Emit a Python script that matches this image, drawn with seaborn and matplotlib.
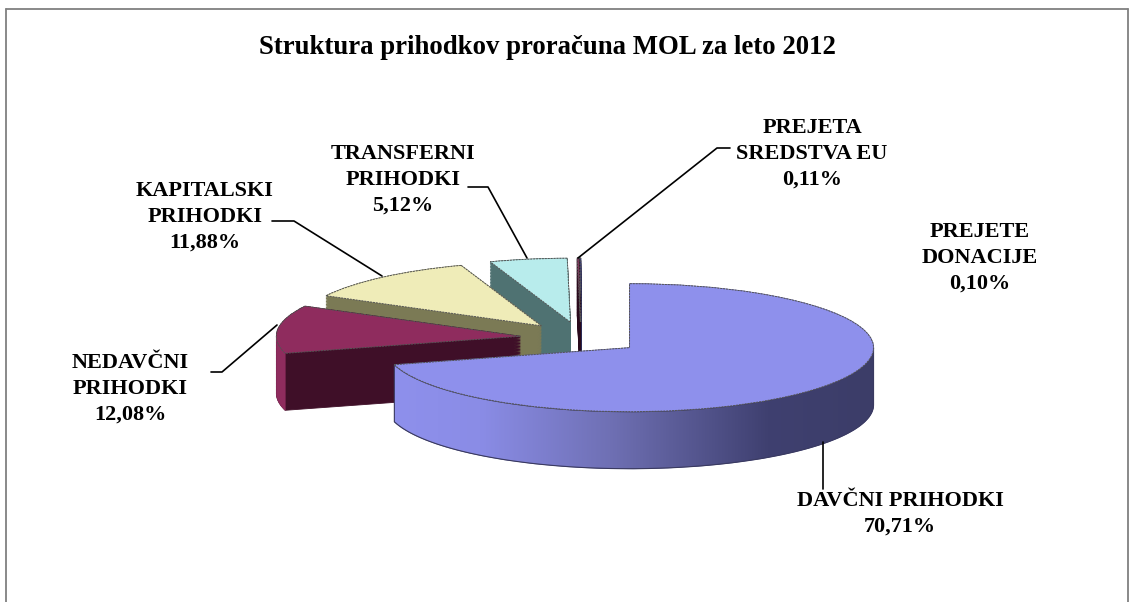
import numpy as np
import matplotlib
matplotlib.use("Agg")
import matplotlib.pyplot as plt
from matplotlib.patches import Wedge, Polygon
from matplotlib.lines import Line2D
from matplotlib.colors import LinearSegmentedColormap
import seaborn as sns

title = "Struktura prihodkov proračuna MOL za leto 2012"
names = ["DAVČNI PRIHODKI", "NEDAVČNI\nPRIHODKI", "KAPITALSKI\nPRIHODKI",
         "TRANSFERNI\nPRIHODKI", "PREJETA\nSREDSTVA EU", "PREJETE\nDONACIJE"]
shares = [70.71, 12.08, 11.88, 5.12, 0.11, 0.10]
top_colors = ["#8e90ec", "#8f2c5e", "#efecb8", "#b8ecec", "#8f2c5e", "#3a3a7a"]
cut_colors = ["#5a5b96", "#3f0f28", "#7b7a55", "#4f7272", "#2a0a1c", "#2a2a55"]
arc_colors = ["#8e90ec", "#8f2c5e", "#efecb8", "#b8ecec", "#4a1030", "#3a3a7a"]
label_xy = [(900, 514), (130, 389), (205, 217), (403, 180), (812, 154), (980, 258)]
leaders = [[(823, 442), (823, 489)],
           [(277, 325), (222, 372), (211, 372)],
           [(382, 276), (294, 221), (272, 221)],
           [(527, 258), (488, 187), (468, 187)],
           [(578, 258), (717, 148), (730, 148)],
           []]

W, H = 1138, 602
CX, CY, RX, RY, DEPTH = 581, 338, 244, 64, 57

sns.set_theme(style="white")
plt.rcParams["font.family"] = ["Liberation Serif", "DejaVu Serif"]
palette = sns.color_palette(top_colors)

fig = plt.figure(figsize=(W / 100, H / 100), dpi=100, facecolor="white")
ax = fig.add_axes([0, 0, 1, 1])
wedges, _ = ax.pie(shares, explode=[0.25] * len(shares), startangle=90,
                   counterclock=False, colors=palette,
                   wedgeprops=dict(linewidth=0.7, edgecolor="#555555", linestyle=(0, (2, 1))))
xlim = (-CX / RX, (W - CX) / RX)
ylim = ((CY - H) / RY, CY / RY)
ax.set_aspect("auto")
d = DEPTH / RY
paint_order = [5, 4, 3, 2, 1, 0]
grad = LinearSegmentedColormap.from_list(
    "wall", [(0, "#8e90ec"), (0.18, "#8a8ce6"), (0.45, "#6f70b4"), (0.78, "#3f4070"), (1, "#3c3d68")])
for rank, i in enumerate(paint_order):
    w = wedges[i]
    base = 10 * (rank + 1)
    cx, cy = w.center
    for k, off in enumerate(np.linspace(d, 0, 40)):
        ax.add_patch(Wedge((cx, cy - off), w.r, w.theta1, w.theta2, facecolor=cut_colors[i],
                           edgecolor=cut_colors[i], linewidth=0.6, zorder=base + k * 0.01))
    # outer rim: only the part facing the viewer (lower half of the ellipse)
    t1, t2 = w.theta1 % 360, w.theta2 % 360
    if t2 <= t1:
        t2 += 360
    segs = []
    for lo, hi in [(180, 360), (540, 720)]:
        a, b = max(t1, lo), min(t2, hi)
        if b > a:
            segs.append((a, b))
    for a, b in segs:
        t = np.radians(np.linspace(a, b, 200))
        xs, ys = cx + w.r * np.cos(t), cy + w.r * np.sin(t)
        poly = np.vstack([np.c_[xs, ys], np.c_[xs, ys - d][::-1]])
        if i == 0:
            patch = Polygon(poly, closed=True, transform=ax.transData, facecolor="none",
                            edgecolor="#3a3a60", linewidth=0.8, zorder=base + 1.2)
            ax.add_patch(patch)
            im = ax.imshow(np.linspace(0, 1, 256)[None, :], cmap=grad, aspect="auto",
                           extent=[xs.min(), xs.max(), (cy - d - 1.2), cy + 0.2],
                           zorder=base + 1.1)
            im.set_clip_path(patch)
        else:
            ax.add_patch(Polygon(poly, closed=True, facecolor=arc_colors[i], edgecolor=arc_colors[i],
                                 linewidth=0.5, zorder=base + 1.1))
    w.set_zorder(base + 2)
ax.set_xlim(xlim)
ax.set_ylim(ylim)
ax.axis("off")


def fx(x):
    return x / W


def fy(y):
    return 1 - y / H


# frame of the picture (no lower edge visible)
for seg in [[(6, 602), (6, 9)], [(6, 9), (1128, 9)], [(1128, 9), (1128, 602)]]:
    fig.add_artist(Line2D([fx(p[0]) for p in seg], [fy(p[1]) for p in seg], color="#808080", linewidth=1.3))

fig.text(fx(547), fy(47), title, ha="center", va="center", fontsize=19.3, fontweight="bold", color="black")
for name, share, (x, y), lead in zip(names, shares, label_xy, leaders):
    value = f"{share:.2f}".replace(".", ",") + "%"
    fig.text(fx(x), fy(y), name + "\n" + value, ha="center", va="center", multialignment="center",
             fontsize=16, fontweight="bold", color="black", linespacing=1.37)
    if lead:
        fig.add_artist(Line2D([fx(p[0]) for p in lead], [fy(p[1]) for p in lead], color="black",
                              linewidth=1.2, zorder=50))

fig.savefig("out.png", dpi=100, facecolor="white")
